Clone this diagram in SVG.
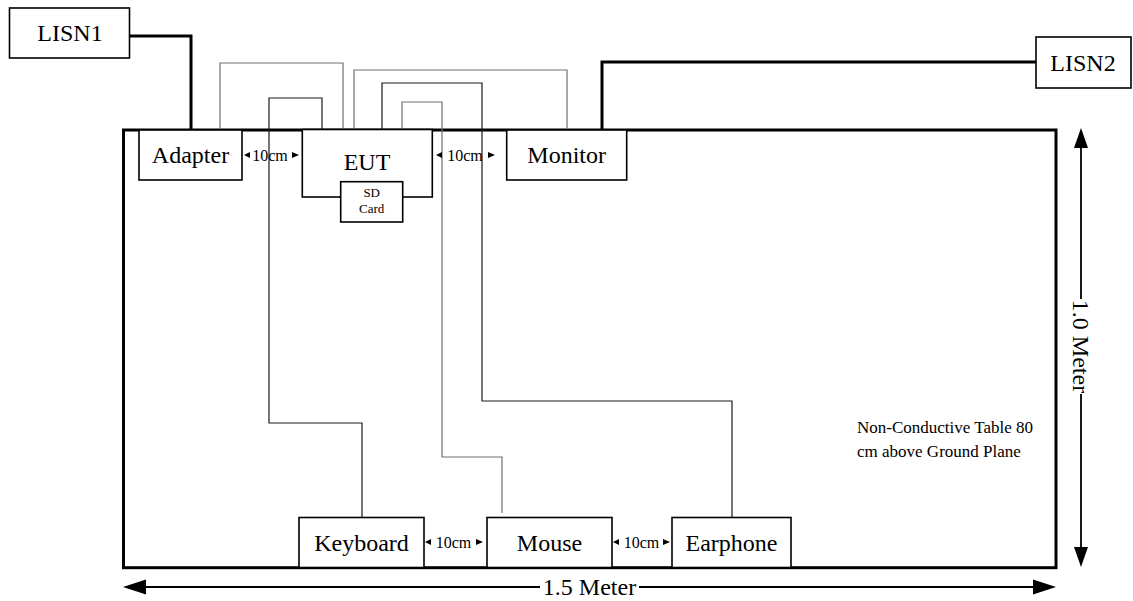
<svg xmlns="http://www.w3.org/2000/svg" width="1133" height="601" viewBox="0 0 1133 601">
<style>
.box{fill:#fff;stroke:#000;stroke-width:1.6}
.thick{fill:none;stroke:#000;stroke-width:3}
.cg{fill:none;stroke:#707070;stroke-width:1.2}
.cb{fill:none;stroke:#1a1a1a;stroke-width:1.2}
.lbl{font-family:"Liberation Serif","Times New Roman",serif;font-size:24px;fill:#000;text-anchor:middle}
.sm{font-family:"Liberation Serif","Times New Roman",serif;font-size:16px;fill:#000;text-anchor:middle}
.xs{font-family:"Liberation Serif","Times New Roman",serif;font-size:13px;fill:#000;text-anchor:middle}
.note{font-family:"Liberation Serif","Times New Roman",serif;font-size:17px;fill:#000}
.dim{fill:none;stroke:#000;stroke-width:1.8}
.ah{fill:#000}
</style>
<rect width="1133" height="601" fill="#fff"/>
<g id="table">
<rect x="123.5" y="130" width="932.5" height="437.7" class="thick"/>
</g>
<g id="connectors">
<path class="thick" d="M130,36 H191 V130"/>
<path class="thick" d="M1036,62 H602 V130"/>
<path class="cg" d="M220,130 V63 H343 V130"/>
<path class="cb" d="M322,130 V98 H269 V423 H362 V517"/>
<path class="cg" d="M354,130 V70 H567 V130"/>
<path class="cb" d="M382,130 V83 H482 V401 H732 V517"/>
<path class="cg" d="M402,130 V102 H442 V457 H502 V513"/>
</g>
<g id="LISN1"><rect x="9.5" y="8" width="120" height="50" class="box"/><text x="70" y="41" class="lbl">LISN1</text></g>
<g id="LISN2"><rect x="1036" y="37" width="95" height="51" class="box"/><text x="1083" y="70.5" class="lbl">LISN2</text></g>
<g id="Adapter"><rect x="139" y="130" width="103" height="50" class="box"/><text x="190.5" y="162.5" class="lbl">Adapter</text></g>
<g id="EUT"><rect x="302.3" y="129.5" width="130" height="67.5" class="box"/><text x="367" y="169.5" class="lbl">EUT</text></g>
<g id="SDCard"><rect x="340.7" y="181.7" width="62" height="40.3" class="box"/><text x="371.7" y="197" class="xs">SD</text><text x="371.7" y="213" class="xs">Card</text></g>
<g id="Monitor"><rect x="506.7" y="130" width="120" height="50" class="box"/><text x="566.7" y="162.5" class="lbl">Monitor</text></g>
<g id="Keyboard"><rect x="299" y="517.5" width="125" height="50" class="box"/><text x="361.5" y="550.5" class="lbl">Keyboard</text></g>
<g id="Mouse"><rect x="487" y="517.5" width="125" height="50" class="box"/><text x="549.5" y="550.5" class="lbl">Mouse</text></g>
<g id="Earphone"><rect x="672" y="517.5" width="119" height="50" class="box"/><text x="731.5" y="550.5" class="lbl">Earphone</text></g>
<g id="gap1"><path class="ah" d="M244,155 L250,152 L250,158 Z"/><text x="270" y="160.5" class="sm">10cm</text><path class="ah" d="M299,155 L292,152 L292,158 Z"/></g>
<g id="gap2"><path class="ah" d="M436,155 L442,152 L442,158 Z"/><text x="465" y="160.5" class="sm">10cm</text><path class="ah" d="M495,155 L488,152 L488,158 Z"/></g>
<g id="gap3"><path class="ah" d="M425,542 L431,539 L431,545 Z"/><text x="453.5" y="547.5" class="sm">10cm</text><path class="ah" d="M483,542 L476,539 L476,545 Z"/></g>
<g id="gap4"><path class="ah" d="M613,542 L619,539 L619,545 Z"/><text x="641.5" y="547.5" class="sm">10cm</text><path class="ah" d="M670,542 L663,539 L663,545 Z"/></g>
<g id="note"><text x="857" y="433" class="note">Non-Conductive Table 80</text><text x="857" y="457" class="note">cm above Ground Plane</text></g>
<g id="dim-h">
<path class="dim" d="M145,587 H540 M639,587 H1033"/>
<path class="ah" d="M123,587 L146,579.5 L146,594.5 Z"/>
<path class="ah" d="M1056,587 L1033,579.5 L1033,594.5 Z"/>
<text x="589.5" y="595" class="lbl">1.5 Meter</text>
</g>
<g id="dim-v">
<path class="dim" d="M1081,147 V299 M1081,394 V548"/>
<path class="ah" d="M1081,128 L1074,148 L1088,148 Z"/>
<path class="ah" d="M1081,567 L1074,547 L1088,547 Z"/>
<text class="lbl" transform="translate(1081,346.5) rotate(90)" x="0" y="8">1.0 Meter</text>
</g>
</svg>
